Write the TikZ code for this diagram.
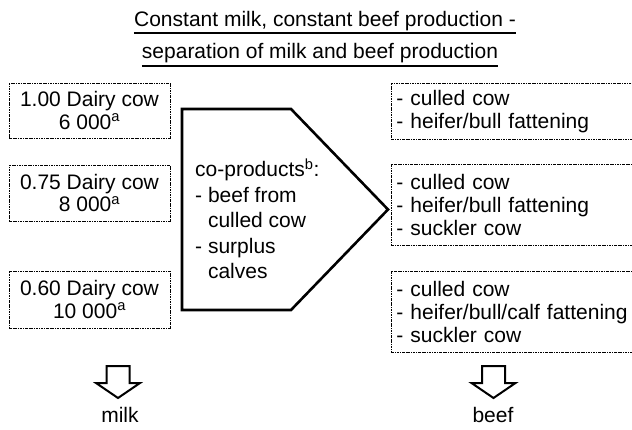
\documentclass[tikz,border=0pt]{standalone}
\usepackage{fontspec}
\setmainfont{Liberation Sans}
\begin{document}
\begin{tikzpicture}[x=1pt,y=-1pt,
  dd/.style={draw, line width=0.9pt, dash pattern=on 2.6pt off 1pt on 0.7pt off 1pt},
  lbox/.style={dd, minimum width=161pt, inner sep=0pt, align=center, font=\fontsize{21}{22.5}\selectfont},
  rbox/.style={dd, anchor=north west, text width=241pt, inner xsep=5pt, inner ysep=0pt, align=left, font=\fontsize{21}{23}\selectfont},
  titletxt/.style={anchor=base, inner sep=0pt, font=\fontsize{21}{22}\selectfont},
  uline/.style={line width=1.8pt},
  thick5/.style={line width=2.6pt, line join=miter},
  plain/.style={inner sep=0pt, font=\fontsize{21}{22}\selectfont},
  downarrow/.pic={\draw[line width=2pt, line join=miter] (-11.5,0) -- (11.5,0) -- (11.5,17) -- (22,17) -- (0,32) -- (-22,17) -- (-11.5,17) -- cycle;}
]
\useasboundingbox (0,0) rectangle (632,430);
\clip (0,0) rectangle (632,430);

% title
\node[titletxt] (t1) at (325,27) {Constant milk, constant beef production -};
\node[titletxt] (t2) at (320,59) {separation of milk and beef production};
\draw[uline] (t1.west |- 0,33) -- (t1.east |- 0,33);
\draw[uline] (t2.west |- 0,66) -- (t2.east |- 0,66);

% left boxes
\node[lbox, minimum height=55pt] (l1) at (89.5,110.5) {1.00 Dairy cow\\6 000\textsuperscript{a}};
\node[lbox, minimum height=56pt] (l2) at (89.5,193) {0.75 Dairy cow\\8 000\textsuperscript{a}};
\node[lbox, minimum height=57pt] (l3) at (89.5,299.5) {0.60 Dairy cow\\10 000\textsuperscript{a}};

% pentagon
\draw[thick5] (182,109) coordinate (p1) -- (291,109) coordinate (p2) -- (388,209.5) coordinate (tip)
  -- (291,310) coordinate (p4) -- (182,310) coordinate (p5) -- cycle;
\node[plain, anchor=west, align=left, font=\fontsize{21}{25.5}\selectfont] (coprod) at (195,219)
  {co-products\textsuperscript{b}:\\- beef from\\\phantom{- }culled cow\\- surplus\\\phantom{- }calves};

% right boxes
\node[rbox, minimum height=56pt] (r1) at (391,83) {- culled cow\\- heifer/bull fattening};
\node[rbox, minimum height=81pt] (r2) at (391,164) {- culled cow\\- heifer/bull fattening\\- suckler cow};
\node[rbox, minimum height=81pt] (r3) at (391,271) {- culled cow\\- heifer/bull/calf fattening\\- suckler cow};

% outputs
\pic at (118,366) {downarrow};
\pic at (493.5,366) {downarrow};
\node[plain] (milk) at (120,415) {milk};
\node[plain] (beef) at (493,415) {beef};
\end{tikzpicture}
\end{document}
